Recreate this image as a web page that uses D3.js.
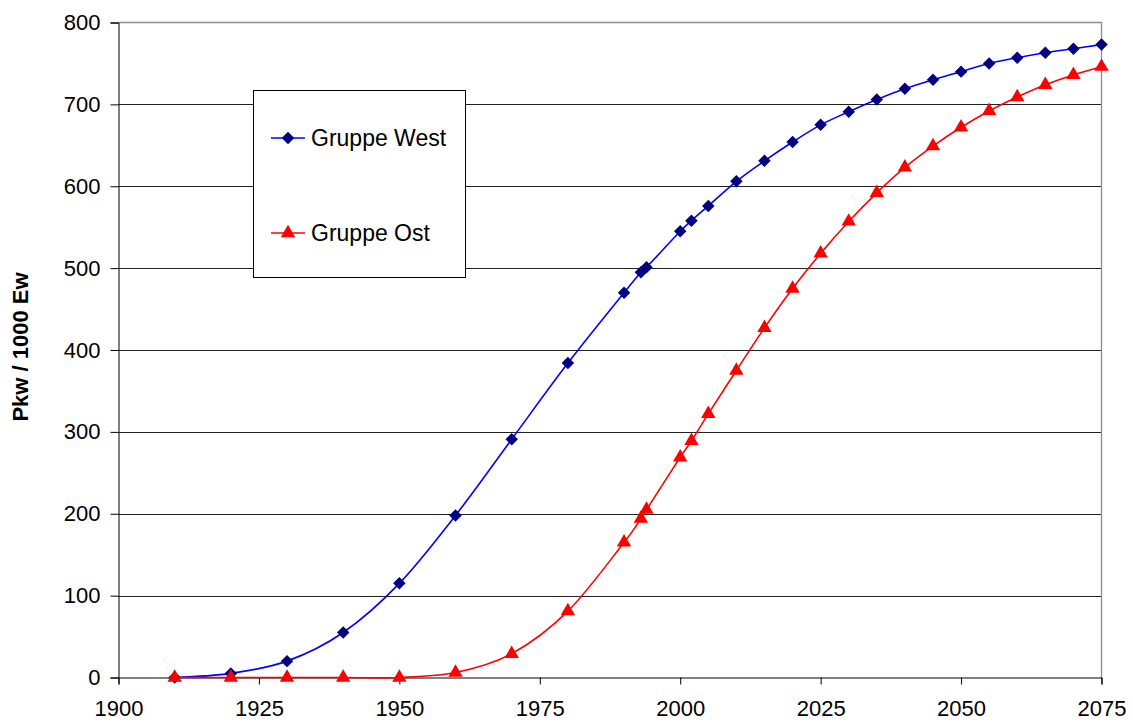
<!DOCTYPE html>
<html>
<head>
<meta charset="utf-8">
<script src="https://cdn.jsdelivr.net/npm/d3@7"></script>
<style>
  html, body { margin: 0; padding: 0; background: #fff; }
  svg { display: block; font-family: "Liberation Sans", Arial, sans-serif; }
</style>
</head>
<body>
<svg id="chart" width="1133" height="724"></svg>
<script>
// Jahre und Pkw-Dichte (Pkw je 1000 Einwohner)
const years = [1910, 1920, 1930, 1940, 1950, 1960, 1970, 1980, 1990, 1993, 1994,
               2000, 2002, 2005, 2010, 2015, 2020, 2025, 2030, 2035, 2040, 2045,
               2050, 2055, 2060, 2065, 2070, 2075];
const west = [0, 5, 20, 55, 115, 198, 291, 384, 470, 495, 501,
              545, 558, 576, 606, 631, 654, 675, 691, 706, 719, 730,
              740, 750, 757, 763, 768, 773];
const ost = [0, 0, 0, 0, 0, 6, 29, 81, 165, 194, 205,
             269, 289, 322, 375, 427, 475, 518, 557, 592, 623, 649,
             672, 692, 709, 724, 736, 746];
const xTicks = [1900, 1925, 1950, 1975, 2000, 2025, 2050, 2075];
const yTicks = [0, 100, 200, 300, 400, 500, 600, 700, 800];
const seriesNames = ["Gruppe West", "Gruppe Ost"];
const yTitle = "Pkw / 1000 Ew";

const svg = d3.select("#chart");
const plot = { left: 118.5, right: 1101.5, top: 22.5, bottom: 677.5 };

const x = d3.scaleLinear().domain([1900, 2075]).range([plot.left, plot.right]);
const y = d3.scaleLinear().domain([0, 800]).range([plot.bottom, plot.top]);

// Horizontal gridlines
svg.append("g").selectAll("line")
  .data(yTicks.filter(v => v > 0 && v < 800))
  .join("line")
  .attr("x1", plot.left).attr("x2", plot.right)
  .attr("y1", d => Math.round(y(d)) + 0.5).attr("y2", d => Math.round(y(d)) + 0.5)
  .attr("stroke", "#222").attr("stroke-width", 1);

// Plot frame (top and right in grey)
svg.append("path")
  .attr("d", `M${plot.left},${plot.top}H${plot.right}V${plot.bottom}`)
  .attr("fill", "none").attr("stroke", "#8c8c8c").attr("stroke-width", 1.3);

// Y axis
const yAxis = svg.append("g")
  .attr("transform", `translate(${plot.left},0)`)
  .call(d3.axisLeft(y).tickValues(yTicks).tickSize(8).tickPadding(10).tickFormat(d3.format("d")));
yAxis.select(".domain").attr("stroke", "#000");
yAxis.selectAll(".tick line").attr("stroke", "#000");
yAxis.selectAll("text").attr("font-size", 22).attr("fill", "#000")
  .attr("font-family", "Liberation Sans, Arial, sans-serif");

// X axis
const xAxis = svg.append("g")
  .attr("transform", `translate(0,${plot.bottom})`)
  .call(d3.axisBottom(x).tickValues(xTicks).tickSize(7).tickPadding(16).tickFormat(d3.format("d")));
xAxis.select(".domain").attr("stroke", "#000");
xAxis.selectAll(".tick line").attr("stroke", "#000");
xAxis.selectAll("text").attr("font-size", 22).attr("fill", "#000")
  .attr("font-family", "Liberation Sans, Arial, sans-serif");

// Y axis title
svg.append("text")
  .attr("transform", `translate(28,347) rotate(-90)`)
  .attr("text-anchor", "middle")
  .attr("font-size", 22).attr("font-weight", "bold").attr("fill", "#000")
  .text(yTitle);

// Series
const line = d3.line()
  .x(d => x(d[0])).y(d => y(d[1]))
  .curve(d3.curveCardinal.tension(0));

const westPts = years.map((yr, i) => [yr, west[i]]);
const ostPts = years.map((yr, i) => [yr, ost[i]]);

// Square turned by 45 degrees for the diamond markers
const diamond = d3.symbol().type(d3.symbolSquare).size(78);
const triangle = d3.symbol().type(d3.symbolTriangle).size(90);

function markerTransform(cx, cy, isDiamond) {
  return `translate(${cx},${cy})` + (isDiamond ? " rotate(45)" : "");
}

function drawSeries(pts, lineColor, markerColor, sym, isDiamond) {
  const g = svg.append("g");
  g.append("path").datum(pts)
    .attr("d", line).attr("fill", "none")
    .attr("stroke", lineColor).attr("stroke-width", 1.6);
  g.selectAll("path.m").data(pts).join("path")
    .attr("class", "m")
    .attr("d", sym)
    .attr("transform", d => markerTransform(x(d[0]), y(d[1]), isDiamond))
    .attr("fill", markerColor);
}

drawSeries(westPts, "#0000ff", "#000080", diamond, true);
drawSeries(ostPts, "#ff0000", "#ff0000", triangle, false);

// Legend
const legend = svg.append("g");
legend.append("rect")
  .attr("x", 253.5).attr("y", 90.5).attr("width", 212).attr("height", 187)
  .attr("fill", "#fff").attr("stroke", "#000").attr("stroke-width", 1);
const legendItems = [
  { name: seriesNames[0], line: "#0000ff", marker: "#000080", sym: diamond, isDiamond: true, cy: 138 },
  { name: seriesNames[1], line: "#ff0000", marker: "#ff0000", sym: triangle, isDiamond: false, cy: 233 }
];
legendItems.forEach(it => {
  legend.append("line")
    .attr("x1", 271).attr("x2", 305).attr("y1", it.cy).attr("y2", it.cy)
    .attr("stroke", it.line).attr("stroke-width", 1.6);
  legend.append("path").attr("d", it.sym)
    .attr("transform", markerTransform(288, it.cy, it.isDiamond)).attr("fill", it.marker);
  legend.append("text")
    .attr("x", 311).attr("y", it.cy).attr("dy", "0.36em")
    .attr("font-size", 23).attr("fill", "#000")
    .text(it.name);
});
</script>
</body>
</html>
